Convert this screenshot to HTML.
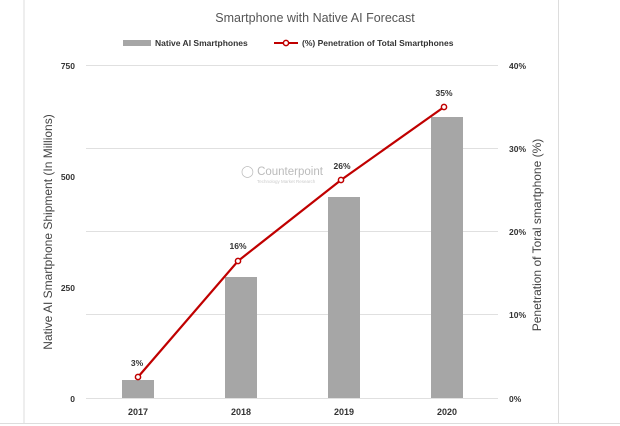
<!DOCTYPE html>
<html><head><meta charset="utf-8"><style>
html,body{margin:0;padding:0;background:#fff;}
svg{display:block;}
text{font-family:"Liberation Sans",sans-serif;}
</style></head><body>
<svg width="620" height="426" viewBox="0 0 620 426">
<rect x="0" y="0" width="620" height="426" fill="#fff"/>
<line x1="24" y1="0" x2="24" y2="424" stroke="#ddd" stroke-width="1"/>
<line x1="558.5" y1="0" x2="558.5" y2="424" stroke="#ddd" stroke-width="1"/>
<line x1="0" y1="423.5" x2="620" y2="423.5" stroke="#ddd" stroke-width="1"/>
<text x="315" y="22" text-anchor="middle" font-size="12.5" fill="#555">Smartphone with Native AI Forecast</text>
<rect x="123" y="40" width="28" height="6" fill="#a6a6a6"/>
<text x="155" y="46" font-size="8.5" font-weight="bold" fill="#333">Native AI Smartphones</text>
<line x1="274" y1="43" x2="298" y2="43" stroke="#c00000" stroke-width="2"/>
<circle cx="286" cy="43" r="2.6" fill="#fff" stroke="#c00000" stroke-width="1.5"/>
<text x="302" y="46" font-size="8.5" font-weight="bold" fill="#333">(%) Penetration of Total Smartphones</text>
<g stroke="#e0e0e0" stroke-width="1">
<line x1="86" y1="65.5" x2="498" y2="65.5"/>
<line x1="86" y1="148.5" x2="498" y2="148.5"/>
<line x1="86" y1="231.5" x2="498" y2="231.5"/>
<line x1="86" y1="314.5" x2="498" y2="314.5"/>
<line x1="86" y1="398.5" x2="498" y2="398.5"/>
</g>
<g font-size="8.5" font-weight="bold" fill="#333" text-anchor="end">
<text x="75" y="69">750</text><text x="75" y="180">500</text><text x="75" y="291">250</text><text x="75" y="402">0</text>
</g>
<g font-size="8.5" font-weight="bold" fill="#333">
<text x="509" y="69">40%</text><text x="509" y="152">30%</text><text x="509" y="235">20%</text><text x="509" y="318">10%</text><text x="509" y="402">0%</text>
</g>
<text transform="translate(52,232) rotate(-90)" text-anchor="middle" font-size="12" fill="#444">Native AI Smartphone Shipment (In Millions)</text>
<text transform="translate(541,235) rotate(-90)" text-anchor="middle" font-size="12" fill="#444">Penetration of Toral smartphone (%)</text>
<g fill="#a6a6a6">
<rect x="122" y="380" width="32" height="18"/>
<rect x="225" y="277" width="32" height="121"/>
<rect x="328" y="197" width="32" height="201"/>
<rect x="431" y="117" width="32" height="281"/>
</g>
<g font-size="9" font-weight="bold" fill="#333" text-anchor="middle">
<text x="138" y="415">2017</text><text x="241" y="415">2018</text><text x="344" y="415">2019</text><text x="447" y="415">2020</text>
</g>
<text x="241" y="175" font-size="11.5" fill="#bbb">◯ Counterpoint</text>
<text x="257" y="183" font-size="4.5" fill="#ccc">Technology Market Research</text>
<polyline points="138,377 238,261 341,180 444,107" fill="none" stroke="#c00000" stroke-width="2.2"/>
<g fill="#fff" stroke="#c00000" stroke-width="1.5">
<circle cx="138" cy="377" r="2.6"/><circle cx="238" cy="261" r="2.6"/><circle cx="341" cy="180" r="2.6"/><circle cx="444" cy="107" r="2.6"/>
</g>
<g font-size="8.5" font-weight="bold" fill="#333" text-anchor="middle">
<text x="137" y="366">3%</text><text x="238" y="249">16%</text><text x="342" y="169">26%</text><text x="444" y="96">35%</text>
</g>
</svg>
</body></html>
